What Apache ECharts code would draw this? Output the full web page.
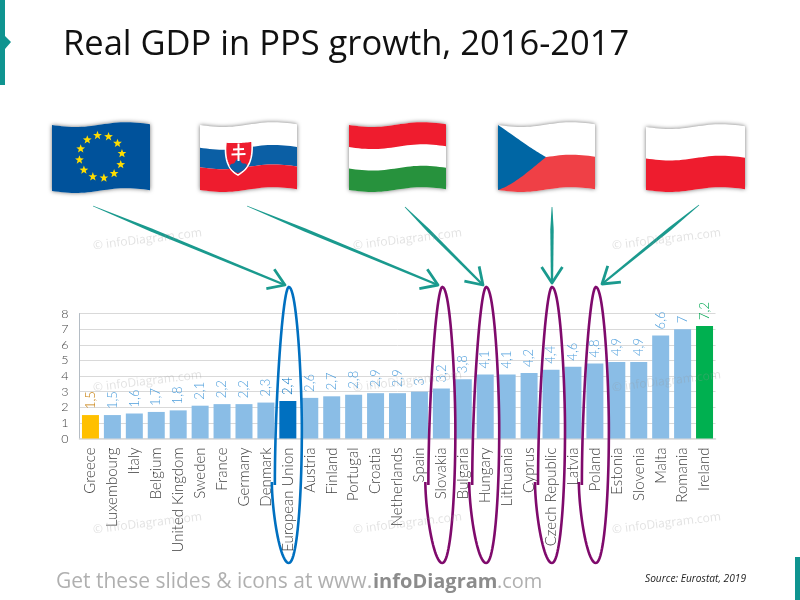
<!DOCTYPE html>
<html><head><meta charset="utf-8">
<script src="https://cdn.jsdelivr.net/npm/echarts@6/dist/echarts.min.js"></script>
<style>html,body{margin:0;padding:0;background:#fff}#c{width:800px;height:600px}</style></head>
<body><div id="c"></div>
<script>
const categories = ["Greece","Luxembourg","Italy","Belgium","United Kingdom","Sweden","France","Germany","Denmark","European Union","Austria","Finland","Portugal","Croatia","Netherlands","Spain","Slovakia","Bulgaria","Hungary","Lithuania","Cyprus","Czech Republic","Latvia","Poland","Estonia","Slovenia","Malta","Romania","Ireland"];
const growth = [1.5,1.5,1.6,1.7,1.8,2.1,2.2,2.2,2.3,2.4,2.6,2.7,2.8,2.9,2.9,3,3.2,3.8,4.1,4.1,4.2,4.4,4.6,4.8,4.9,4.9,6.6,7,7.2];
const title = "Real GDP in PPS growth, 2016-2017";
const yMax = 8;
const circled = ["Slovakia","Hungary","Czech Republic","Poland"];

const barStyle = {Greece:"#ffc000","European Union":"#0070c0",Ireland:"#00b050"};
const labelStyle = {Greece:"#c57a00","European Union":"#0070c0",Ireland:"#00a651"};
const chart = echarts.init(document.getElementById('c'),null,{renderer:'canvas'});
const FONT = "Lato";
chart.setOption({
  animation:false,
  backgroundColor:"#fff",
  grid:{left:79.5,width:636,top:313.5,height:125},
  xAxis:{type:'category',data:categories,
    axisTick:{show:false},axisLine:{lineStyle:{color:"#d9d9d9",width:1.5}},
    axisLabel:{interval:0,rotate:90,color:"#404040",fontFamily:FONT,fontWeight:300,fontSize:15,margin:9}},
  yAxis:{type:'value',min:0,max:yMax,interval:1,
    axisLine:{show:true,lineStyle:{color:"#b4bcc4",width:1}},axisTick:{show:false},
    splitLine:{lineStyle:{color:"#d9d9d9",width:1}},
    axisLabel:{color:"#404040",fontFamily:FONT,fontWeight:300,fontSize:12.5,margin:11}},
  series:[{type:'bar',barWidth:17,
    data:growth.map((v,i)=>({value:v,
      itemStyle:{color:barStyle[categories[i]]||"#8abde6"},
      label:{color:labelStyle[categories[i]]||"#4f9fdc"}})),
    label:{show:true,position:'top',rotate:90,distance:6,align:'left',verticalAlign:'middle',fontFamily:FONT,fontSize:13,fontWeight:300,
      formatter:p=>String(p.value).replace('.',',')}}]
});

/* ---- decoration helpers ---- */
const g=[];
const off=t=>2.2*Math.sin(2*Math.PI*t)-0.8*t;
function cubic(p0,p1,p2,p3,n=24){const r=[];for(let i=0;i<=n;i++){const t=i/n,u=1-t;
  r.push([u*u*u*p0[0]+3*u*u*t*p1[0]+3*u*t*t*p2[0]+t*t*t*p3[0],u*u*u*p0[1]+3*u*u*t*p1[1]+3*u*t*t*p2[1]+t*t*t*p3[1]]);}return r;}
function stripe(f,v0,v1,color,z){const pts=[],N=30;
  for(let i=0;i<=N;i++){const t=i/N;pts.push([f.x+t*f.w,f.y+v0*f.h+off(t)]);}
  for(let i=N;i>=0;i--){const t=i/N;pts.push([f.x+t*f.w,f.y+v1*f.h+off(t)]);}
  g.push({type:'polygon',z:z||3,shape:{points:pts},style:{fill:color}});}
function base(f){const pts=[],N=30;
  for(let i=0;i<=N;i++){const t=i/N;pts.push([f.x+t*f.w,f.y+off(t)]);}
  for(let i=N;i>=0;i--){const t=i/N;pts.push([f.x+t*f.w,f.y+f.h+off(t)]);}
  g.push({type:'polygon',z:2,shape:{points:pts},style:{fill:"#fff",shadowBlur:4,shadowColor:"rgba(0,0,0,.55)"}});}
function star(cx,cy,r,color){const pts=[];for(let i=0;i<10;i++){const a=-Math.PI/2+i*Math.PI/5,q=i%2?r*.42:r;pts.push([cx+q*Math.cos(a),cy+q*Math.sin(a)]);}
  g.push({type:'polygon',z:4,shape:{points:pts},style:{fill:color}});}

const eu={x:52,y:125,w:98,h:66}, sk={x:200,y:125,w:97,h:65}, hu={x:349,y:125,w:97,h:65}, cz={x:498,y:125,w:97,h:65}, pl={x:646,y:127,w:99,h:63};
base(eu);stripe(eu,0,1,"#00529b");
for(let i=0;i<12;i++){const a=i*Math.PI/6-0.15;star(100.7+21.5*Math.cos(a),156.7+21.5*Math.sin(a),4.6,"#ffdd00");}
base(sk);stripe(sk,0.35,0.65,"#0b5fa5");stripe(sk,0.65,1,"#ee1c2e");
const shOut=[...cubic([226,142],[226,142],[240,143],[252,141]),...cubic([252,141],[253,158],[250,168],[238,175]),...cubic([238,175],[228,170],[224,158],[226,142])];
g.push({type:'polygon',z:4,shape:{points:shOut},style:{fill:"#ee1c2e",stroke:"#fff",lineWidth:1.6}});
g.push({type:'polygon',z:5,shape:{points:[...cubic([229.5,166],[232,162],[234,165],[235,162]),...cubic([235,162],[237,158],[240,158],[241,162]),...cubic([241,162],[243,165],[245,162],[247,165]),...cubic([247,165],[245,170],[241,172],[238,173]),...cubic([238,173],[234,172],[231,169],[229.5,166])]},style:{fill:"#0b5fa5"}});
[[[238.5,143.5],[238.5,161]],[[233,149.5],[244,149]],[[231.5,154.5],[245.5,154]]].forEach(l=>g.push({type:'line',z:5,shape:{x1:l[0][0],y1:l[0][1],x2:l[1][0],y2:l[1][1]},style:{stroke:"#fff",lineWidth:2}}));
base(hu);stripe(hu,0,0.34,"#ef1c2e");stripe(hu,0.67,1,"#27923d");
base(cz);stripe(cz,0.5,1,"#ef4046");
g.push({type:'polygon',z:4,shape:{points:[...cubic([498,125],[520,140],[530,148],[546,157]),...cubic([546,157],[530,170],[515,184],[498,190])]},style:{fill:"#0066a4"}});
base(pl);stripe(pl,0.5,1,"#ee1c2e");

/* arrows */
const teal="#1a9a8e";
function arrow(x0,y0,x1,y1){
  const a=Math.atan2(y1-y0,x1-x0),L=19,s=0.58;
  const n=[Math.cos(a+Math.PI/2),Math.sin(a+Math.PI/2)];
  const w0=1.7,w1=1.1;
  g.push({type:'polygon',z:6,shape:{points:[[x0+n[0]*.4,y0+n[1]*.4],[x0+(x1-x0)*.3+n[0]*w0,y0+(y1-y0)*.3+n[1]*w0],[x1+n[0]*w1,y1+n[1]*w1],[x1-n[0]*w1,y1-n[1]*w1],[x0+(x1-x0)*.3-n[0]*w0,y0+(y1-y0)*.3-n[1]*w0],[x0-n[0]*.4,y0-n[1]*.4]]},style:{fill:teal}});
  g.push({type:'polyline',z:6,shape:{points:[[x1-L*Math.cos(a-s),y1-L*Math.sin(a-s)],[x1,y1],[x1-L*Math.cos(a+s),y1-L*Math.sin(a+s)]]},style:{stroke:teal,lineWidth:2.8,fill:'none',lineJoin:'round'}});
}
arrow(93,206,285,285);arrow(247,206,438,285);arrow(405,207,483,285);arrow(552,207,552,283);arrow(699,205,602,284);

/* rings around highlighted categories, centred on the axis position */
function ring(name,color){
  const cx=chart.convertToPixel({xAxisIndex:0},name)+1;
  const pts=[...cubic([cx-14,485],[cx-14,400],[cx-6,287],[cx,287]),...cubic([cx,287],[cx+8,287],[cx+13,380],[cx+13,430]),...cubic([cx+13,430],[cx+13,500],[cx+8,563],[cx,563]),...cubic([cx,563],[cx-9,563],[cx-17,510],[cx-17,482])];
  g.push({type:'polyline',z:7,shape:{points:pts,smooth:0},style:{stroke:color,lineWidth:2.6,fill:'none'}});
}
ring("European Union","#0070c0");
circled.forEach(n=>ring(n,"#7f0a6c"));

/* watermarks */
[93,353,612].forEach(x=>[246,388,530].forEach(y=>{
  g.push({type:'text',z:8,x:x,y:y,rotation:0.12,style:{text:"© infoDiagram.com",fill:"rgba(150,150,150,.28)",font:"12px 'Open Sans'",textVerticalAlign:'middle'}});
}));

/* page furniture */
g.push({type:'rect',z:9,shape:{x:0,y:0,width:5,height:85},style:{fill:"#0f9490"}});
g.push({type:'polygon',z:9,shape:{points:[[5,36],[11,42],[5,49]]},style:{fill:"#0f9490"}});
g.push({type:'rect',z:9,shape:{x:795,y:557,width:5,height:43},style:{fill:"#0f9490"}});
g.push({type:'text',z:9,x:63,y:45,style:{text:title,fill:"#111",font:"34.5px 'Open Sans'",textVerticalAlign:'middle'}});
g.push({type:'text',z:9,x:56,y:582,style:{text:"Get these slides & icons at www.",fill:"#b0b0b0",font:"21px 'Open Sans'",textVerticalAlign:'middle'}});
g.push({type:'text',z:9,x:373,y:582,style:{text:"infoDiagram",fill:"#8c8c8c",font:"bold 20px 'Open Sans'",textVerticalAlign:'middle'}});
g.push({type:'text',z:9,x:497,y:582,style:{text:".com",fill:"#b0b0b0",font:"20px 'Open Sans'",textVerticalAlign:'middle'}});
g.push({type:'text',z:9,x:645,y:579,style:{text:"Source: Eurostat, 2019",fill:"#222",font:"italic 10.2px 'Open Sans'",textVerticalAlign:'middle'}});
chart.setOption({graphic:{elements:g}});
</script></body></html>
